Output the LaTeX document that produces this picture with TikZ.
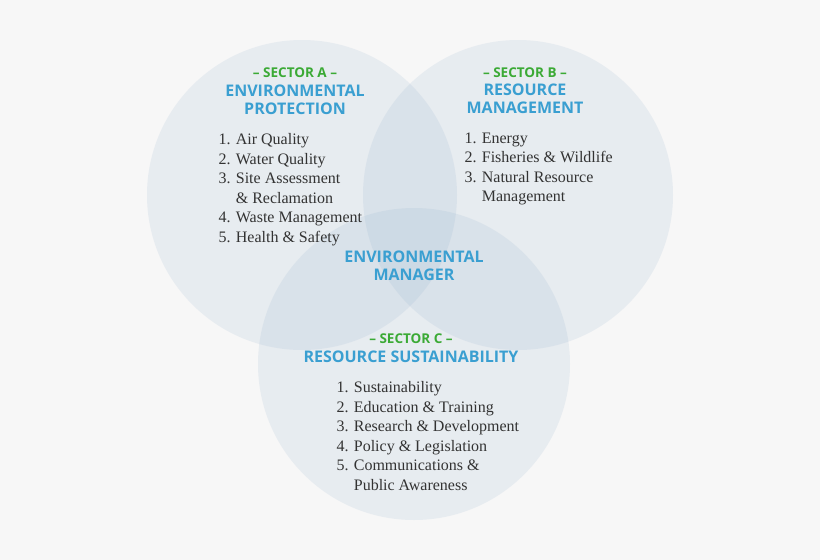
\documentclass[tikz,border=0pt]{standalone}
\usepackage{fontspec}
\setmainfont{Liberation Serif}
\newfontfamily\headfont{Open Sans}
\definecolor{bgc}{HTML}{F7F7F7}
\definecolor{circc}{HTML}{8FAECB}
\definecolor{blueT}{HTML}{3A9FD1}
\definecolor{greenT}{HTML}{3BAA35}
\definecolor{listc}{HTML}{333333}
\tikzset{
 venn/.style={fill=circc,fill opacity=0.15,draw=none},
 sector/.style={font=\headfont\bfseries\fontsize{13.5}{15}\selectfont,text=greenT},
 title/.style={font=\headfont\bfseries\fontsize{16}{18}\selectfont,text=blueT,align=center},
 lst/.style={font=\fontsize{16}{19.5}\selectfont,text=listc,align=left,anchor=north west}
}
\begin{document}
\begin{tikzpicture}[x=1pt,y=-1pt]
\fill[bgc] (0,0) rectangle (820,560);
\useasboundingbox (0,0) rectangle (820,560);
\fill[venn] (302,195) circle (155);
\fill[venn] (518,195) circle (155);
\fill[venn] (414,364) circle (156);
\node[sector] (sa) at (295,73) {– SECTOR A –};
\node[title] (ta) at (295,100) {ENVIRONMENTAL\\PROTECTION};
\node[lst] (la) at (215,130) {1. Air Quality\\2. Water Quality\\3. Site Assessment\\\phantom{3. }\& Reclamation\\4. Waste Management\\5. Health \& Safety};
\node[sector] (sb) at (525,73) {– SECTOR B –};
\node[title] (tb) at (525,99) {RESOURCE\\MANAGEMENT};
\node[lst] (lb) at (461,129) {1. Energy\\2. Fisheries \& Wildlife\\3. Natural Resource\\\phantom{3. }Management};
\node[title] (tm) at (414,266) {ENVIRONMENTAL\\MANAGER};
\node[sector] (sc) at (411,339) {– SECTOR C –};
\node[title] (tc) at (411,357) {RESOURCE SUSTAINABILITY};
\node[lst] (lc) at (333,378) {1. Sustainability\\2. Education \& Training\\3. Research \& Development\\4. Policy \& Legislation\\5. Communications \&\\\phantom{5. }Public Awareness};
\end{tikzpicture}
\end{document}
